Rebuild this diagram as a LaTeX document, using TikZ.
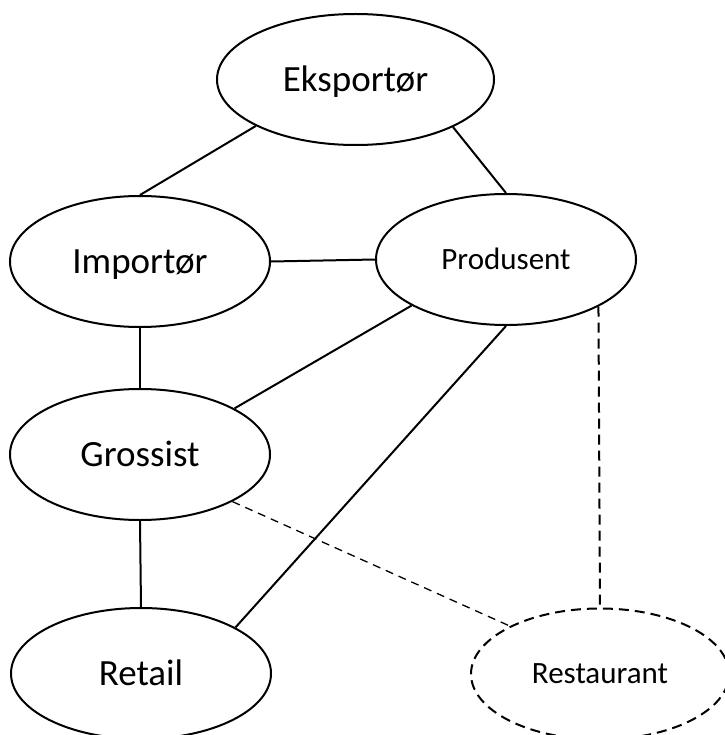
\documentclass[tikz,border=0pt]{standalone}
\usepackage{fontspec}
\setmainfont{Carlito}
\usetikzlibrary{shapes.geometric}
\tikzset{
  ent/.style={ellipse, draw, line width=2pt, inner sep=0pt, minimum width=260pt, minimum height=131pt,
    text height=23.4pt, text depth=0pt, font=\fontsize{37}{40}\selectfont},
  small/.style={font=\fontsize{31}{34}\selectfont, text height=19.6pt},
  link/.style={line width=2pt},
  dlink/.style={line width=2pt, dash pattern=on 10pt off 6pt},
  thinlink/.style={line width=1.3pt, dash pattern=on 8pt off 6pt}
}
\begin{document}
\begin{tikzpicture}[x=1pt,y=-1pt]
\useasboundingbox (0,0) rectangle (724,735);
\node[ent, minimum width=277pt] (eks) at (355.5,79.5) {Eksportør};
\node[ent] (imp) at (140,261.5) {Importør};
\node[ent, small] (prod) at (506,259.5) {Produsent};
\node[ent] (gros) at (140,454.5) {Grossist};
\node[ent] (ret) at (141,673.5) {Retail};
\node[ent, small, dlink, minimum width=258pt] (rest) at (600,674) {Restaurant};
\draw[link] (eks.205.7) -- (imp.north);
\draw[link] (eks.334.7) -- (prod.north);
\draw[link] (imp.east) -- (prod.west);
\draw[link] (imp.south) -- (gros.north);
\draw[link] (prod.206.6) -- (gros.26.6);
\draw[link] (prod.south) -- (ret.26.8);
\draw[link] (gros.south) -- (ret.north);
\draw[thinlink] (gros.333) -- (rest.152.4);
\draw[dlink] (prod.333.4) -- (rest.north);
\end{tikzpicture}
\end{document}
